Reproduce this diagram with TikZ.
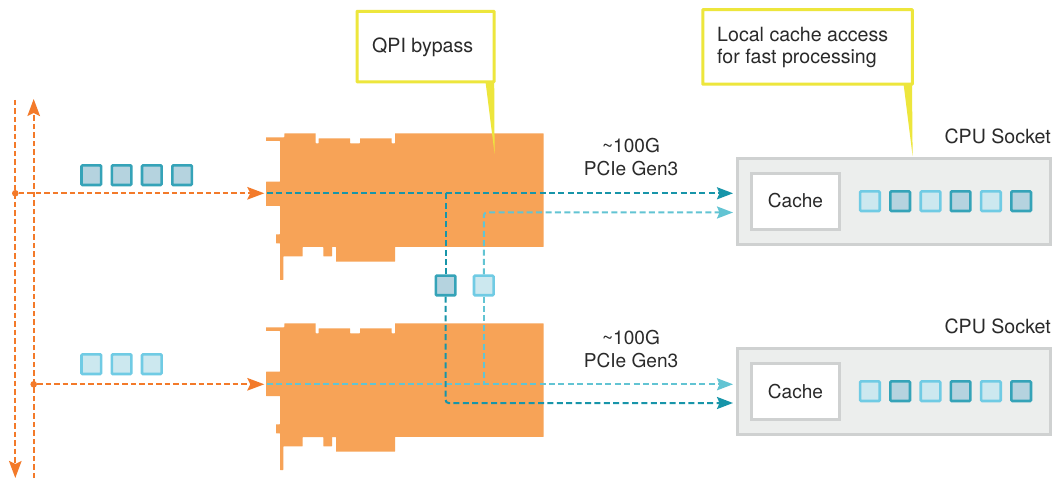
\documentclass[tikz,border=0pt]{standalone}
\usepackage{fontspec}
\setmainfont{TeX Gyre Heros}
\usetikzlibrary{arrows.meta}
\definecolor{cardor}{HTML}{F7A357}
\definecolor{arrowor}{HTML}{F37A2A}
\definecolor{tealD}{HTML}{1795A9}
\definecolor{tealL}{HTML}{62C4D3}
\definecolor{sqDb}{HTML}{35A3B8}
\definecolor{sqDf}{HTML}{B5D3DF}
\definecolor{sqLb}{HTML}{70CBE4}
\definecolor{sqLf}{HTML}{CCE8EF}
\definecolor{callY}{HTML}{EDE63C}
\definecolor{sockB}{HTML}{CFD1D1}
\definecolor{sockF}{HTML}{ECEEED}
\definecolor{txt}{HTML}{2A2A2A}
\tikzset{
  lab/.style={font=\fontsize{19.1bp}{22bp}\selectfont, text=txt, inner sep=0pt},
  labbig/.style={font=\fontsize{19.6bp}{22bp}\selectfont, text=txt, inner sep=0pt},
  sqdark/.style={draw=sqDb, fill=sqDf, line width=2.6bp, rounded corners=1bp, minimum size=19.6bp, inner sep=0pt},
  sqlight/.style={draw=sqLb, fill=sqLf, line width=2.6bp, rounded corners=1bp, minimum size=19.6bp, inner sep=0pt},
  orline/.style={color=arrowor, draw, line width=2bp, dash pattern=on 5.5bp off 3bp},
  dkline/.style={color=tealD, draw, line width=2bp, dash pattern=on 6bp off 3.4bp},
  ltline/.style={color=tealL, draw, line width=2bp, dash pattern=on 6bp off 3.4bp},
  ortip/.style={-{Stealth[length=17bp,width=12.5bp,inset=3bp]}},
  tealtip/.style={-{Stealth[length=16bp,width=12bp,inset=2.5bp]}},
  socket/.style={draw=sockB, fill=sockF, line width=3bp, minimum width=313.5bp, minimum height=86.5bp, inner sep=0pt},
  cachebox/.style={draw=sockB, fill=white, line width=3bp, minimum width=87.5bp, minimum height=56bp, inner sep=0pt, lab},
  callbox/.style={draw=callY, fill=white, line width=3bp, inner sep=0pt, anchor=north west, rounded corners=0.5bp},
  dotnode/.style={circle, fill=arrowor, minimum size=6.6bp, inner sep=0pt},
  cardpic/.pic={
    \fill[cardor, rounded corners=0.4bp]
      (266,137.3) -- (284.3,137.3) -- (284.3,133.3) -- (315.7,133.3) -- (315.7,143.3) -- (318.7,143.3)
      -- (318.7,138.3) -- (350,138.3) -- (350,143.3) -- (360,143.3) -- (360,138.3) -- (391.7,138.3)
      -- (391.7,143.3) -- (395,143.3) -- (395,133.3) -- (543.6,133.3) -- (543.6,246.9) -- (395,246.9)
      -- (395,261.7) -- (336,261.7) -- (336,247) -- (332,247) -- (332,256.3) -- (323.3,256.3)
      -- (323.3,247) -- (302.7,247) -- (302.7,256.3) -- (283.3,256.3) -- (283.3,280) -- (280,280)
      -- (280,243.3) -- (276,243.3) -- (276,234.3) -- (280,234.3) -- (280,206) -- (266,206)
      -- (266,181.7) -- (280,181.7) -- (280,141) -- (266,141) -- cycle;
  }
}
\begin{document}
\begin{tikzpicture}[x=1bp,y=-1bp]
\useasboundingbox (0,0) rectangle (1054,479);
\fill[white] (0,0) rectangle (1054,479);

% cards
\pic at (0,0) {cardpic};
\pic at (0,190) {cardpic};

% sockets
\node[socket] (sockA) at (893.8,201.4) {};
\node[socket] (sockB) at (893.8,391.4) {};
\node[cachebox] (cacheA) at (795.5,201.2) {};
\node[cachebox] (cacheB) at (795.5,391.2) {};
\node[lab, anchor=base] (cacheAt) at (795.5,208) {Cache};
\node[lab, anchor=base] (cacheBt) at (795.5,398) {Cache};
\node[labbig, anchor=base east] (labA) at (1051,143.5) {CPU Socket};
\node[labbig, anchor=base east] (labB) at (1051,333.5) {CPU Socket};

% squares in sockets
\foreach \n/\x/\s in {1/869.9/sqlight,2/900.2/sqdark,3/930.5/sqlight,4/960.6/sqdark,5/990.9/sqlight,6/1021.2/sqdark}{
  \node[\s] (a\n) at (\x,201.2) {};
  \node[\s] (b\n) at (\x,391.2) {};
}

% input squares
\foreach \n/\x in {1/91.3,2/121.6,3/151.8,4/182.1}{
  \node[sqdark] (u\n) at (\x,175.2) {};
}
\foreach \n/\x in {1/91.3,2/121.6,3/151.8}{
  \node[sqlight] (l\n) at (\x,364.2) {};
}

% middle squares
\node[sqdark] (midD) at (445.6,285.5) {};
\node[sqlight] (midL) at (483.8,285.5) {};

% orange vertical lines
\coordinate (vAtop) at (15.3,100);
\coordinate (vAbot) at (15.3,478);
\coordinate (vBtop) at (33.7,99);
\coordinate (vBbot) at (33.7,478);
\draw[orline, ortip] (vAtop) -- (vAbot);
\draw[orline, ortip] (vBbot) -- (vBtop);

% orange horizontal lines
\node[dotnode] (dotA) at (15.3,193.3) {};
\node[dotnode] (dotB) at (33.7,384.3) {};
\coordinate (inA) at (264.3,193.3);
\coordinate (inB) at (264.3,384.3);
\draw[orline, ortip] (dotA) -- (inA);
\draw[orline, ortip] (dotB) -- (inB);

% teal lines
\coordinate (stA) at (267,193.3);
\coordinate (enA) at (733,193.3);
\coordinate (stB) at (267,384.3);
\coordinate (enB) at (733,384.3);
\coordinate (brD) at (445.6,193.3);
\coordinate (enLt) at (733,212.5);
\coordinate (enDk) at (733,403);
\coordinate (brL) at (483.8,384.3);
\draw[dkline, tealtip] (stA) -- (enA);
\draw[ltline, tealtip] (stB) -- (enB);
\draw[dkline] (midD.north) -- (brD);
\draw[dkline, tealtip, rounded corners=3bp] (midD.south) -- (445.6,403) -- (enDk);
\draw[ltline, tealtip, rounded corners=3bp] (midL.north) -- (483.8,212.5) -- (enLt);
\draw[ltline] (midL.south) -- (brL);

% callouts
\fill[callY] (485.3,80) -- (494.2,80) -- (494.6,154) -- cycle;
\node[callbox, minimum width=137bp, minimum height=70.5bp] (callA) at (355.5,9.8) {};
\node[labbig, anchor=base west] (callAt) at (372,53) {QPI bypass};
\fill[callY] (903.3,82) -- (912,82) -- (912.6,156) -- cycle;
\node[callbox, minimum width=209.5bp, minimum height=74.5bp] (callB) at (701.3,8.2) {};
\node[labbig, anchor=base west] (callBt1) at (717,42) {Local cache access};
\node[labbig, anchor=base west] (callBt2) at (717,64) {for fast processing};

% speed labels
\node[lab, anchor=base] (spA1) at (631,153) {\textasciitilde100G};
\node[lab, anchor=base] (spA2) at (631,176) {PCIe Gen3};
\node[lab, anchor=base] (spB1) at (631,345) {\textasciitilde100G};
\node[lab, anchor=base] (spB2) at (631,368) {PCIe Gen3};
\end{tikzpicture}
\end{document}
